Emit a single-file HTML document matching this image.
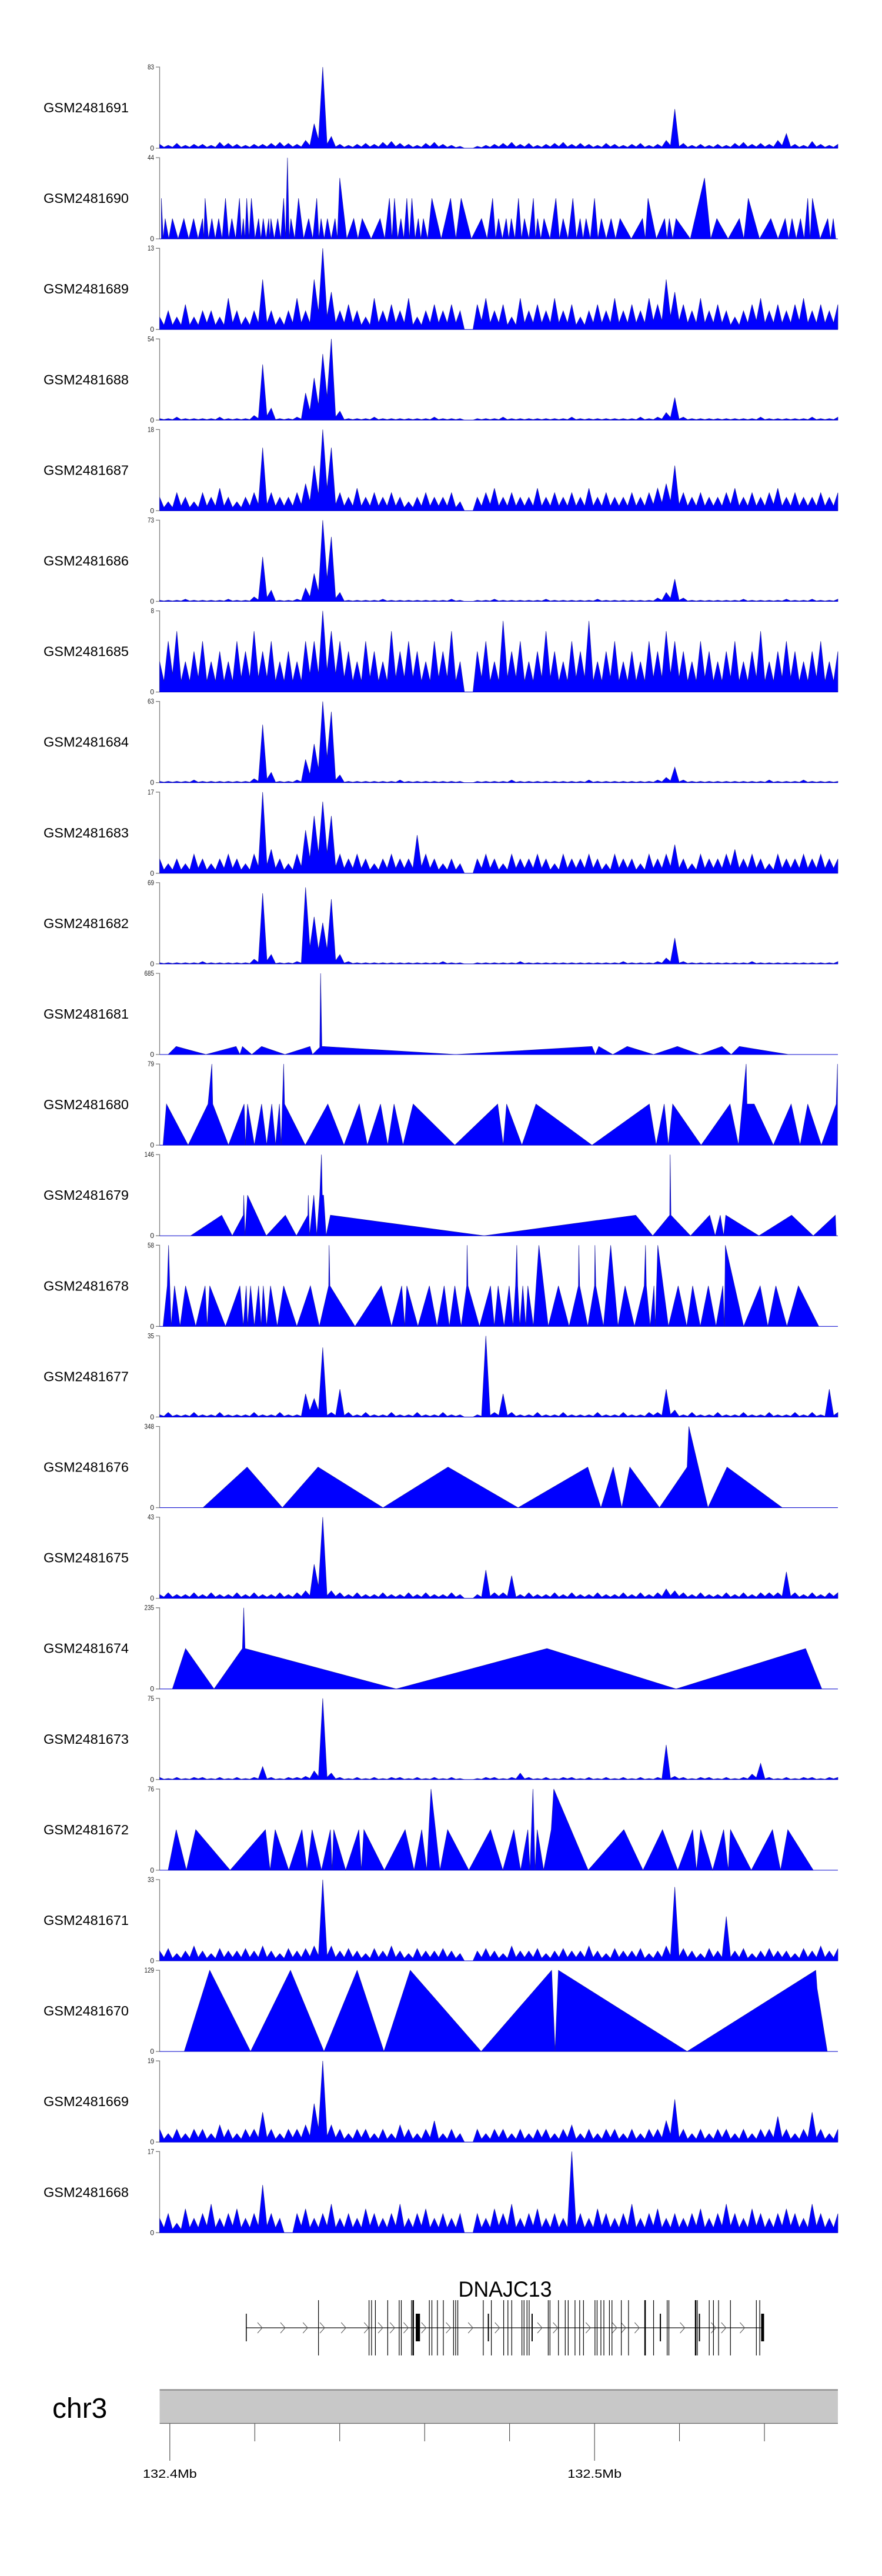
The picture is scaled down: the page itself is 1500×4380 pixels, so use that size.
<!DOCTYPE html>
<html><head><meta charset="utf-8"><title>Coverage tracks DNAJC13</title>
<style>
html,body{margin:0;padding:0;background:#fff;}
svg{display:block;font-family:"Liberation Sans",sans-serif;}
</style></head>
<body>
<svg id="chart" width="1500" height="4380" viewBox="0 0 1500 4380" xmlns="http://www.w3.org/2000/svg">
<g id="tracks"></g>
<g id="gene"></g>
<g id="ideo"></g>
</svg>
<script>
// ---- data (genomic positions in kb from window start, window = 159.7 kb starting at 132.3976 Mb) ----
const sampleNames = ["GSM2481691","GSM2481690","GSM2481689","GSM2481688","GSM2481687","GSM2481686","GSM2481685","GSM2481684","GSM2481683","GSM2481682","GSM2481681","GSM2481680","GSM2481679","GSM2481678","GSM2481677","GSM2481676","GSM2481675","GSM2481674","GSM2481673","GSM2481672","GSM2481671","GSM2481670","GSM2481669","GSM2481668"];
const yMax = [83,44,13,54,18,73,8,63,17,69,685,79,146,58,35,348,43,235,75,76,33,129,19,17];

// binned coverage (80 bins across window)
const cov1691 = [4,3,5,3,4,4,3,6,5,4,3,4,4,5,6,5,4,8,25,83,12,4,3,4,5,4,6,7,5,4,3,5,6,4,3,2,0,2,3,4,5,6,4,5,3,4,5,6,4,5,4,3,5,4,3,4,5,3,4,8,40,5,3,4,3,4,3,5,6,4,5,4,8,15,4,3,7,4,3,4];
const cov1689 = [2,3,2,4,2,3,3,2,5,3,2,3,8,3,2,3,5,3,8,13,6,3,4,3,2,5,3,4,3,5,2,3,4,3,4,3,0,4,5,3,4,2,5,3,4,3,5,3,4,2,3,4,3,5,3,4,3,5,4,8,6,4,3,5,3,4,3,2,3,4,5,3,4,3,4,5,3,4,3,4];
const cov1688 = [1,1,2,1,1,1,1,2,1,1,1,3,37,8,1,1,2,18,28,44,54,6,1,1,1,2,1,1,1,1,1,1,2,1,1,1,0,1,1,1,2,1,1,1,1,1,1,1,2,1,1,1,1,1,1,1,2,1,2,5,15,2,1,1,1,1,1,1,1,1,2,1,1,1,1,1,2,1,1,2];
const cov1687 = [3,2,4,3,2,4,3,5,3,2,3,4,14,4,3,3,4,6,10,18,14,4,3,5,3,4,3,4,3,2,3,4,3,3,4,2,0,3,4,5,3,4,3,3,5,3,4,3,4,3,5,3,4,3,3,4,3,4,5,6,10,4,3,4,3,3,4,5,3,4,3,4,5,3,4,3,3,4,3,4];
const cov1686 = [1,1,1,2,1,1,1,1,2,1,1,4,40,10,1,1,2,12,25,73,58,8,1,1,1,1,2,1,1,1,1,1,1,1,2,1,0,1,1,2,1,1,1,1,1,2,1,1,1,1,1,2,1,1,1,1,1,1,3,8,20,3,1,1,1,1,1,1,2,1,1,1,1,2,1,1,2,1,1,2];
const cov1685 = [3,5,6,3,4,5,3,4,3,5,4,6,4,5,3,4,3,5,5,8,6,5,4,3,5,4,3,6,4,5,4,3,5,4,6,3,0,4,5,3,7,4,5,3,4,6,4,3,5,4,7,3,4,5,3,4,3,5,4,6,5,4,3,5,4,3,4,5,3,4,6,3,4,5,4,3,4,5,3,4];
const cov1684 = [1,1,1,1,2,1,1,1,1,1,1,3,45,8,1,1,2,18,30,63,55,6,1,1,1,1,1,1,2,1,1,1,1,1,1,1,0,1,1,1,1,2,1,1,1,1,1,1,1,1,2,1,1,1,1,1,1,1,2,4,12,2,1,1,1,1,1,1,1,1,1,2,1,1,1,2,1,1,1,1];
const cov1683 = [3,2,3,2,4,3,2,3,4,3,2,4,17,5,3,2,4,9,12,15,12,4,3,4,3,2,3,4,3,3,8,4,3,2,3,2,0,3,4,3,2,4,3,3,4,3,2,4,3,3,4,3,2,4,3,3,2,4,3,4,6,3,2,4,3,3,4,5,3,4,3,2,4,3,3,4,3,4,3,3];
const cov1682 = [1,1,1,1,1,2,1,1,1,1,1,4,60,8,1,1,2,65,40,35,55,8,2,1,1,1,1,1,1,1,1,1,1,2,1,1,0,1,1,1,1,1,2,1,1,1,1,1,1,1,1,1,1,1,2,1,1,1,2,5,22,2,1,1,1,1,1,1,1,2,1,1,1,1,1,1,1,1,1,2];
const cov1677 = [1,2,1,1,2,1,1,2,1,1,1,2,1,1,2,1,1,10,8,30,2,12,2,1,2,1,1,2,1,1,2,1,1,2,1,1,0,1,35,2,10,2,1,1,2,1,1,2,1,1,1,2,1,1,2,1,1,2,2,12,3,1,2,1,1,2,1,1,2,1,1,2,1,1,2,1,2,1,12,2];
const cov1675 = [2,3,2,2,3,2,3,2,2,3,2,3,2,2,3,2,3,4,18,43,4,3,2,3,2,2,3,2,2,3,2,3,2,2,3,2,0,2,15,3,3,12,2,3,2,2,3,2,3,2,2,3,2,2,3,2,3,2,3,5,4,3,2,3,2,2,3,2,3,2,3,3,3,14,3,2,3,2,3,3];
const cov1673 = [2,1,2,1,2,2,1,2,1,2,1,2,12,2,1,2,2,3,8,75,6,2,1,2,1,2,1,2,2,1,2,1,2,1,2,1,0,1,2,2,1,2,6,2,1,2,1,2,2,1,2,1,2,1,2,1,2,1,2,32,3,2,1,2,2,1,2,1,2,5,15,2,1,2,1,2,2,1,2,2];
const cov1671 = [4,5,3,4,6,4,3,5,4,4,5,4,6,4,3,5,4,5,6,33,6,4,5,4,3,5,4,6,4,3,5,4,4,5,4,3,0,4,5,4,3,6,4,4,5,3,4,5,4,4,6,4,3,5,4,4,5,3,4,6,30,5,4,3,5,4,18,4,5,3,4,5,4,4,3,5,4,6,4,5];
const cov1669 = [3,2,3,2,3,3,2,4,3,2,3,3,7,3,2,3,3,4,9,19,4,3,2,3,3,2,3,2,4,3,2,3,5,2,3,2,0,3,2,3,3,2,3,2,3,3,2,3,4,2,3,2,3,3,2,3,2,3,3,5,10,3,2,3,2,3,3,2,3,2,3,3,6,3,2,3,7,3,2,3];
const cov1668 = [3,4,2,5,3,4,6,3,4,5,3,4,10,4,3,0,4,5,3,4,6,3,4,3,5,4,3,4,6,3,4,5,3,4,3,4,0,4,3,5,4,6,3,4,5,3,4,3,17,4,3,5,4,3,4,6,3,4,5,3,4,3,4,5,3,4,6,4,3,5,4,3,4,5,4,3,6,4,3,4];

// triangle-peak track (peak kb, peak value)
const peaks1690Pos = [0.4,1.3,3.0,5.7,8.0,10.1,10.7,12.3,13.9,15.5,17.0,18.8,19.7,20.5,21.6,23.3,24.4,25.7,26.2,27.8,29.2,30.1,30.9,32.7,35.1,37.0,38.0,39.5,41.3,42.4,45.7,47.7,51.9,54.1,55.3,56.8,58.2,59.4,60.9,62.1,64.1,68.5,71.0,75.8,78.4,79.8,81.6,82.8,84.5,85.9,88.0,89.0,90.5,93.3,95.0,97.3,99.0,100.4,102.4,104.0,106.3,108.4,113.7,115.0,118.9,120.0,121.6,128.3,131.2,136.5,138.6,143.9,147.3,148.9,150.9,152.6,153.7,157.3,158.6];
const peaks1690Val = [22,11,11,11,11,11,22,11,11,22,11,22,11,22,22,11,11,11,11,11,22,44,11,22,11,22,11,11,11,33,11,11,11,22,22,11,22,22,11,11,22,22,22,11,22,11,11,11,22,11,22,11,11,22,11,22,11,11,22,11,11,11,11,22,11,11,11,33,11,11,22,11,11,11,11,22,22,11,11];

// piecewise-linear tracks: vertex positions (kb) and values
const pos1681 = [2.0,3.9,10.9,18.0,18.9,19.5,21.7,24.0,29.5,35.4,36.0,37.7,37.9,38.2,38.5,69.7,101.8,102.6,103.4,106.7,110.1,116.3,121.9,127.2,132.4,134.6,136.5,148.1];
const val1681 = [0,68,0,68,0,68,0,68,0,68,0,60,685,68,68,0,68,0,68,0,68,0,68,0,68,0,68,0];
const pos1680 = [0.8,1.6,6.7,11.4,12.3,12.5,16.2,19.9,20.2,20.7,22.3,24.0,25.2,26.4,27.3,28.2,28.6,29.2,29.4,34.3,39.6,43.4,47.0,48.9,52.0,53.7,55.2,57.3,59.7,69.5,79.6,80.9,81.7,85.3,88.6,101.8,115.3,116.9,118.8,119.8,120.8,127.5,134.3,136.3,138.1,138.3,140.0,144.5,148.7,150.8,152.6,155.8,159.3,159.6];
const val1680 = [0,40,0,40,79,40,0,40,0,40,0,40,0,40,0,40,0,79,40,0,40,0,40,0,40,0,40,0,40,0,40,0,40,0,40,0,40,0,40,0,40,0,40,0,79,40,40,0,40,0,40,0,40,79];
const pos1679 = [7.3,14.6,17.1,19.7,19.8,20.1,20.7,25.1,29.6,32.2,34.9,35.0,35.3,36.3,37.0,37.7,38.1,38.3,38.6,39.2,40.2,76.4,112.1,116.1,120.1,120.2,120.4,125.0,129.5,130.8,132.0,132.8,133.3,141.1,148.8,153.9,159.1,159.3];
const val1679 = [0,37,0,37,73,0,73,0,37,0,37,73,0,73,0,73,146,73,73,0,37,0,37,0,37,146,37,0,37,0,37,0,37,0,37,0,37,0];
const pos1678 = [0.8,1.8,2.1,2.4,2.7,3.5,4.8,6.1,8.5,10.7,11.2,11.8,15.5,18.9,19.7,20.4,20.7,21.4,22.3,23.3,23.9,24.4,25.2,26.1,27.7,29.2,32.3,35.5,37.6,39.8,39.9,40.1,46.0,52.2,54.6,57.0,57.7,58.2,60.8,63.5,65.3,67.0,68.2,69.5,71.0,72.3,72.4,72.6,75.3,77.9,78.8,79.7,81.1,82.3,83.2,83.8,84.1,84.3,84.8,85.5,86.2,86.7,88.0,89.3,91.5,93.9,96.4,98.6,98.7,98.9,100.8,102.4,102.5,102.7,104.5,106.2,107.9,109.6,111.8,114.1,114.4,114.6,115.5,116.4,116.7,117.3,119.8,122.1,124.1,125.5,127.3,129.2,131.0,132.6,133.0,133.2,137.5,141.4,143.2,145.1,147.7,150.4,155.2];
const val1678 = [0,29,58,29,0,29,0,29,0,29,0,29,0,29,0,29,0,29,0,29,0,29,0,29,0,29,0,29,0,29,58,29,0,29,0,29,0,29,0,29,0,29,0,29,0,29,58,29,0,29,0,29,0,29,0,29,58,29,0,29,0,29,0,58,0,29,0,29,58,29,0,29,58,29,0,58,0,29,0,29,58,29,0,29,0,58,0,29,0,29,0,29,0,29,0,58,0,29,0,29,0,29,0];
const pos1676 = [10.2,20.6,28.9,37.3,52.6,67.9,84.4,100.8,103.9,106.8,108.8,110.7,117.7,124.2,124.6,129.1,133.6,146.6];
const val1676 = [0,174,0,174,0,174,0,174,0,174,0,174,0,174,348,0,174,0];
const pos1674 = [3.0,6.1,12.8,19.5,19.8,20.1,55.7,91.2,121.6,152.1,155.9];
const val1674 = [0,117,0,117,235,117,0,117,0,117,0];
const pos1672 = [2.0,3.9,6.3,8.5,16.6,24.9,26.0,27.2,30.4,33.5,34.7,35.9,38.1,40.2,40.6,41.0,43.8,46.9,47.5,48.1,52.9,57.8,59.9,61.7,62.9,63.9,66.0,67.8,72.8,77.9,80.8,83.4,85.0,86.7,87.2,87.9,88.4,88.9,90.4,92.2,92.8,100.9,109.3,113.8,118.4,122.0,125.5,126.4,127.4,130.2,132.8,133.9,134.4,139.3,144.3,146.2,147.9,153.9];
const val1672 = [0,38,0,38,0,38,0,38,0,38,0,38,0,38,0,38,0,38,0,38,0,38,0,38,0,76,0,38,0,38,0,38,0,38,0,76,0,38,0,38,76,0,38,0,38,0,38,0,38,0,38,0,38,0,38,0,38,0];
const pos1670 = [5.8,11.8,21.4,30.8,38.7,46.5,52.8,59.0,75.7,92.3,93.1,93.9,124.2,154.5,154.8,157.2];
const val1670 = [0,129,0,129,0,129,0,129,0,129,0,129,0,129,100,0];

const binTracks = {"GSM2481691":cov1691,"GSM2481689":cov1689,"GSM2481688":cov1688,"GSM2481687":cov1687,"GSM2481686":cov1686,"GSM2481685":cov1685,"GSM2481684":cov1684,"GSM2481683":cov1683,"GSM2481682":cov1682,"GSM2481677":cov1677,"GSM2481675":cov1675,"GSM2481673":cov1673,"GSM2481671":cov1671,"GSM2481669":cov1669,"GSM2481668":cov1668};
const polyTracks = {"GSM2481681":[pos1681,val1681],"GSM2481680":[pos1680,val1680],"GSM2481679":[pos1679,val1679],"GSM2481678":[pos1678,val1678],"GSM2481676":[pos1676,val1676],"GSM2481674":[pos1674,val1674],"GSM2481672":[pos1672,val1672],"GSM2481670":[pos1670,val1670]};

// gene model (kb)
const exonPos = [37.4,49.3,49.9,50.8,53.7,56.4,56.9,59.3,59.7,63.5,64.1,65.4,66.8,69.2,69.7,70.2,76.2,78.1,81.0,82.0,82.9,85.3,85.8,86.5,87.0,91.5,91.9,93.9,95.5,96.2,97.8,98.9,99.8,102.5,103.0,103.9,104.6,105.9,106.5,108.7,110.4,114.3,116.3,119.5,119.9,126.2,126.6,129.4,130.4,131.6,134.4,140.5,141.3];
const shortExonPos = [77.4,87.7,117.9,127.1];
const chevronPos = [23.6,29.0,34.3,38.3,43.3,48.7,52.0,54.8,58.0,62.2,68.0,73.2,79.5,89.5,93.2,100.9,107.1,109.2,112.4,123.1,130.4,132.8,137.2];
const geneStart = 20.4, geneEnd = 141.9;
const tickMb = [132.40,132.42,132.44,132.46,132.48,132.50,132.52,132.54];
const tickLabels = ["132.4Mb","","","","","132.5Mb","",""];

// ---- scales ----
const X0 = 271.5, X1 = 1425, SPAN = 159.7, WIN_START_MB = 132.3976;
function xs(kb){ return X0 + kb / SPAN * (X1 - X0); }
function xMb(mb){ return xs((mb - WIN_START_MB) * 1000); }
const TOP0 = 114, STEP = 154.1, H = 138;
const NS = "http://www.w3.org/2000/svg";
function mk(tag, attrs, parent){ const e = document.createElementNS(NS, tag); for (const k in attrs) e.setAttribute(k, attrs[k]); parent.appendChild(e); return e; }

const tracksG = document.getElementById('tracks');
sampleNames.forEach((name, i) => {
  const top = TOP0 + STEP * i, base = top + H, mx = yMax[i];
  const ys = v => base - v / mx * H;
  const g = mk('g', {}, tracksG);
  
  
  const lab = mk('text', {x: 74, y: (top + base) / 2 + 8, 'font-size': 23, textLength: 145, lengthAdjust: 'spacingAndGlyphs', fill: '#000'}, g);
  lab.textContent = name;
  
  
  const ax = mk('path', {d: `M265 ${top}H271.5V${base}H265`, stroke: '#7f7f7f', 'stroke-width': 1.3, fill: 'none'}, g);
  
  
  const tmax = mk('text', {x: 262, y: top + 4, 'font-size': 12, 'text-anchor': 'end', fill: '#222', textLength: String(mx).length * 5.5, lengthAdjust: 'spacingAndGlyphs'}, g);
  tmax.textContent = mx;
  
  
  const t0 = mk('text', {x: 262, y: base + 4, 'font-size': 12, 'text-anchor': 'end', fill: '#222'}, g);
  t0.textContent = '0';
  
  
  let pts = [];
  if (binTracks[name]) {
    const arr = binTracks[name];
    const bw = SPAN / (arr.length - 1);
    pts.push([xs(0), base]);
    arr.forEach((v, j) => {
      const kb = j * bw;
      pts.push([xs(kb), ys(v)]);
      if (j < arr.length - 1) {
        const m = Math.min(v, arr[j + 1]) * 0.35;
        pts.push([xs(kb + bw / 2), ys(m)]);
      }
    });
    pts.push([xs(SPAN), base]);
  } else if (polyTracks[name]) {
    const [p, v] = polyTracks[name];
    pts.push([xs(p[0]), base]);
    p.forEach((q, j) => pts.push([xs(q), ys(v[j])]));
    pts.push([xs(p[p.length - 1]), base]);
  } else {
    pts.push([xs(peaks1690Pos[0]), base]);
    peaks1690Pos.forEach((q, j) => {
      pts.push([xs(q), ys(peaks1690Val[j])]);
      if (j < peaks1690Pos.length - 1) pts.push([xs((q + peaks1690Pos[j + 1]) / 2), base]);
    });
    pts.push([xs(peaks1690Pos[peaks1690Pos.length - 1] + 0.6), base]);
  }
  const area = mk('polygon', {points: pts.map(p => p[0].toFixed(1) + ',' + p[1].toFixed(1)).join(' '), fill: '#0000ff', stroke: '#1a1aa0', 'stroke-width': 0.7, 'stroke-linejoin': 'miter'}, g);
  
  
  const bl = mk('line', {x1: X0, x2: X1, y1: base, y2: base, stroke: '#0000cc', 'stroke-width': 1}, g);
  
  
});

// gene model
const geneG = document.getElementById('gene');
const gl = mk('text', {x: 859, y: 3905, 'font-size': 37, 'text-anchor': 'middle', fill: '#000', textLength: 159, lengthAdjust: 'spacingAndGlyphs'}, geneG);
gl.textContent = 'DNAJC13';


const LY = 3958;
const ln = mk('line', {x1: xs(geneStart), x2: xs(geneEnd), y1: LY, y2: LY, stroke: '#333', 'stroke-width': 1.5}, geneG);


chevronPos.forEach(p => {
  const x = xs(p);
  const c = mk('path', {d: `M${x - 4} ${LY - 9}L${x + 4} ${LY}L${x - 4} ${LY + 9}`, stroke: '#555', 'stroke-width': 1, fill: 'none'}, geneG);
  
  
});
exonPos.forEach(p => {
  const thick = (p === 59.7 || p === 114.3 || p === 126.2);
  const e = mk('line', {x1: xs(p), x2: xs(p), y1: 3911, y2: 4005, stroke: '#000', 'stroke-width': thick ? 2.5 : 1.2}, geneG);
  
  
});
shortExonPos.forEach(p => {
  const e = mk('line', {x1: xs(p), x2: xs(p), y1: 3934, y2: 3981, stroke: '#000', 'stroke-width': 2}, geneG);
  
  
});
const utr = mk('rect', {x: xs(60.3), y: 3934, width: xs(61.3) - xs(60.3), height: 47, fill: '#000'}, geneG);


const st = mk('line', {x1: xs(geneStart), x2: xs(geneStart), y1: 3934, y2: 3981, stroke: '#000', 'stroke-width': 1.5}, geneG);


const en = mk('rect', {x: xs(geneEnd) - 2, y: 3934, width: 5, height: 47, fill: '#000'}, geneG);



// chromosome ideogram + axis
const idG = document.getElementById('ideo');
const cl = mk('text', {x: 89, y: 4111, 'font-size': 48, fill: '#000'}, idG);
cl.textContent = 'chr3';


const bar = mk('rect', {x: X0, y: 4063, width: X1 - X0, height: 58, fill: '#c8c8c8'}, idG);


const bt = mk('line', {x1: X0, x2: X1, y1: 4063.5, y2: 4063.5, stroke: '#7f7f7f', 'stroke-width': 2}, idG);


const bb = mk('line', {x1: X0, x2: X1, y1: 4120.5, y2: 4120.5, stroke: '#666', 'stroke-width': 1.2}, idG);


tickMb.forEach((mb, k) => {
  const x = xMb(mb);
  const major = tickLabels[k] !== '';
  const t = mk('line', {x1: x, x2: x, y1: 4121, y2: major ? 4184 : 4151, stroke: '#333', 'stroke-width': 1}, idG);
  
  
  if (major) {
    const tl = mk('text', {x: x, y: 4213, 'font-size': 20, 'text-anchor': 'middle', fill: '#000', textLength: 92, lengthAdjust: 'spacingAndGlyphs'}, idG);
    tl.textContent = tickLabels[k];
    
    
  }
});
</script>
</body></html>
